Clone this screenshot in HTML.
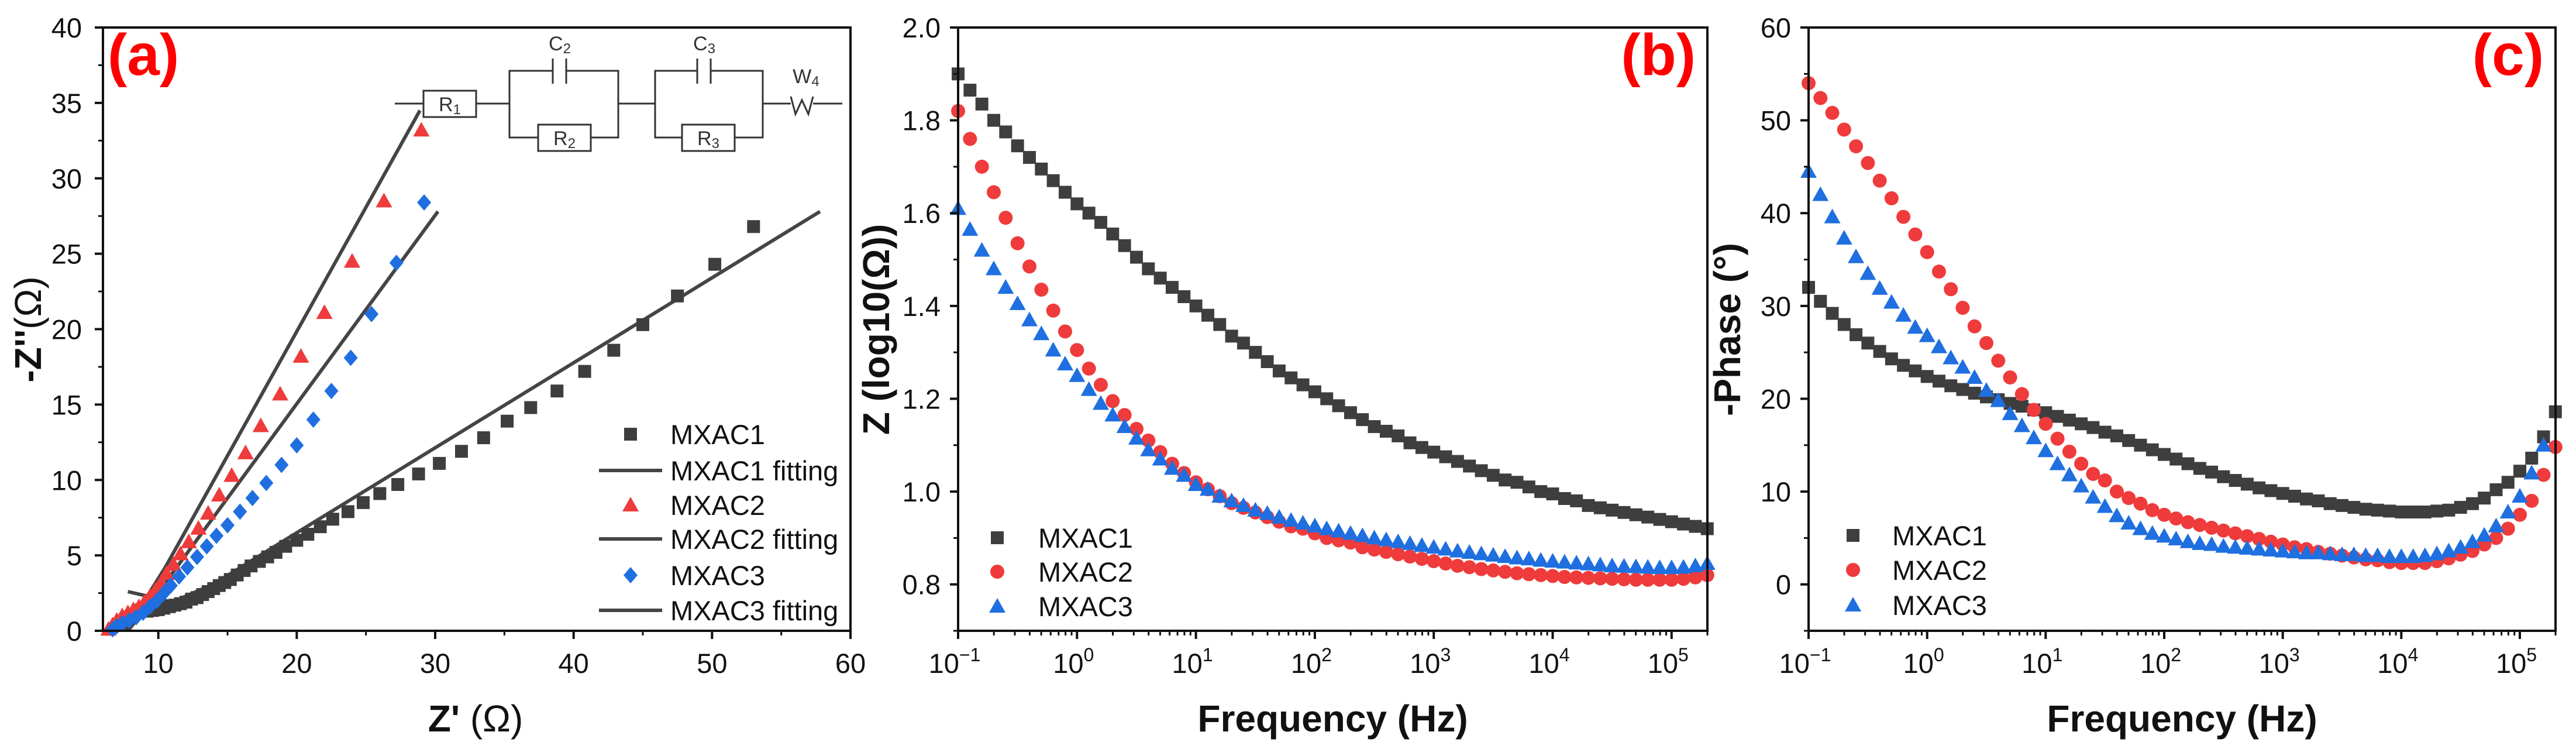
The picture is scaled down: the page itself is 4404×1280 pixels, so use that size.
<!DOCTYPE html>
<html><head><meta charset="utf-8"><style>
html,body{margin:0;padding:0;background:#fff;}
svg{display:block;font-family:"Liberation Sans",sans-serif;}
</style></head><body>
<svg id="fig" width="4404" height="1280" viewBox="0 0 4404 1280" xmlns="http://www.w3.org/2000/svg"></svg>
<script>
// ---------- Data ----------
const nyqX1=[53,50.2,47.5,45,42.9,40.8,38.8,36.9,35.2,33.5,31.9,30.3,28.8,27.3,26,24.8,23.7,22.6,21.7,20.8,20,19.2,18.5,17.9,17.3,16.7,16.2,15.7,15.2,14.8,14.4,14,13.6,13.2,12.8,12.4,12,11.6,11.2,10.8,10.4,10,9.6,9.2,8.8];
const nyqY1=[26.8,24.3,22.2,20.3,18.6,17.2,15.9,14.8,13.9,12.8,11.9,11.1,10.4,9.7,9.1,8.5,7.9,7.4,6.9,6.4,6,5.6,5.2,4.9,4.6,4.3,4,3.7,3.4,3.2,3,2.8,2.6,2.4,2.2,2.1,1.9,1.8,1.7,1.6,1.5,1.4,1.35,1.3,1.4];
const nyqX2=[29,26.3,24,22,20.3,18.8,17.4,16.3,15.3,14.4,13.6,12.9,12.2,11.6,11.1,10.6,10.2,9.8,9.4,9,8.6,8.2,7.8,7.4,7,6.7,6.4];
const nyqY2=[33.2,28.5,24.5,21.1,18.2,15.7,13.6,11.8,10.3,9,7.8,6.8,5.9,5.1,4.4,3.8,3.2,2.7,2.3,1.9,1.6,1.4,1.2,1,0.7,0.4,0.1];
const nyqX3=[29.2,27.2,25.4,23.9,22.5,21.2,20,18.9,17.8,16.8,15.9,15,14.2,13.5,12.8,12.1,11.5,10.9,10.4,9.9,9.4,8.9,8.4,7.9,7.4,7,6.7];
const nyqY3=[28.4,24.4,21,18.1,15.9,14,12.3,11,9.8,8.8,7.9,7,6.3,5.6,4.9,4.2,3.6,3,2.5,2,1.6,1.2,0.9,0.7,0.5,0.3,0.1];
const fitX1=[7.8,9.2,11,14,20,57.8];
const fitY1=[2.6,2.3,1.9,3.1,6.5,27.8];
const fitX2=[7.6,9,10.5,28.9];
const fitY2=[0,2.0,4.2,34.5];
const fitX3=[7.8,9.2,10.6,30.2];
const fitY3=[0,1.6,3.3,27.8];
const aXTicks=[10,20,30,40,50,60];
const aYTicks=[0,5,10,15,20,25,30,35,40];
const logF=[-1,-0.9,-0.8,-0.7,-0.6,-0.5,-0.4,-0.3,-0.2,-0.1,0,0.1,0.2,0.3,0.4,0.5,0.6,0.7,0.8,0.9,1,1.1,1.2,1.3,1.4,1.5,1.6,1.7,1.8,1.9,2,2.1,2.2,2.3,2.4,2.5,2.6,2.7,2.8,2.9,3,3.1,3.2,3.3,3.4,3.5,3.6,3.7,3.8,3.9,4,4.1,4.2,4.3,4.4,4.5,4.6,4.7,4.8,4.9,5,5.1,5.2,5.3];
const zMag1=[1.9,1.865,1.835,1.8,1.775,1.745,1.72,1.695,1.67,1.645,1.62,1.6,1.58,1.555,1.53,1.505,1.48,1.46,1.44,1.42,1.4,1.38,1.36,1.335,1.32,1.3,1.28,1.26,1.245,1.23,1.215,1.2,1.185,1.17,1.155,1.14,1.13,1.12,1.105,1.095,1.085,1.075,1.065,1.055,1.045,1.035,1.025,1.02,1.01,1,0.995,0.985,0.98,0.97,0.965,0.96,0.955,0.95,0.945,0.94,0.935,0.93,0.925,0.92];
const zMag2=[1.82,1.76,1.7,1.645,1.59,1.535,1.485,1.435,1.39,1.345,1.305,1.265,1.23,1.195,1.165,1.135,1.11,1.085,1.06,1.04,1.02,1.005,0.99,0.975,0.965,0.955,0.945,0.935,0.925,0.92,0.91,0.9,0.895,0.89,0.88,0.875,0.87,0.865,0.86,0.855,0.85,0.845,0.84,0.837,0.833,0.83,0.827,0.824,0.822,0.82,0.818,0.816,0.815,0.814,0.813,0.812,0.811,0.81,0.81,0.81,0.81,0.812,0.815,0.82];
const zMag3=[1.61,1.565,1.52,1.48,1.44,1.405,1.37,1.34,1.305,1.275,1.25,1.22,1.19,1.165,1.14,1.115,1.09,1.07,1.05,1.035,1.015,1.005,0.99,0.98,0.97,0.96,0.953,0.945,0.938,0.932,0.926,0.92,0.915,0.91,0.905,0.9,0.896,0.892,0.888,0.884,0.88,0.876,0.872,0.869,0.866,0.863,0.86,0.857,0.855,0.852,0.85,0.848,0.846,0.844,0.842,0.84,0.839,0.838,0.837,0.836,0.836,0.837,0.84,0.845];
const phase1=[32,30.5,29.2,28,26.9,26,25.1,24.3,23.6,23,22.4,21.9,21.4,21,20.6,20.2,19.9,19.5,19.2,18.8,18.5,18.1,17.7,17.3,16.9,16.4,16,15.5,15,14.5,14,13.5,13,12.5,12.1,11.6,11.2,10.8,10.4,10.1,9.8,9.5,9.2,9,8.7,8.5,8.3,8.1,8,7.9,7.8,7.8,7.8,7.9,8,8.3,8.7,9.3,10.2,11,12.2,13.6,15.9,18.6];
const phase2=[54,52.4,50.8,49,47.2,45.4,43.5,41.6,39.6,37.7,35.8,33.7,31.8,29.8,27.8,26,24.1,22.3,20.5,18.8,17.3,15.7,14.3,13,11.9,11.2,10,9.3,8.7,8,7.5,7.1,6.7,6.4,6.1,5.8,5.5,5.2,4.9,4.6,4.3,4,3.8,3.5,3.3,3.1,2.9,2.7,2.6,2.4,2.3,2.3,2.3,2.5,2.8,3.2,3.6,4.3,5,6,7.5,9,11.8,14.8];
const phase3=[44.5,42,39.6,37.3,35.3,33.5,31.9,30.4,29,27.7,26.8,25.6,24.4,23.4,22.3,20.9,19.8,18.4,17.1,15.8,14.4,13,11.8,10.6,9.4,8.4,7.4,6.6,6,5.5,5.2,4.9,4.6,4.4,4.3,4.1,4,3.9,3.8,3.7,3.6,3.5,3.4,3.4,3.3,3.2,3.2,3.1,3.1,3,3,3,3.1,3.3,3.6,4,4.6,5.3,6.3,7.8,9.5,12,15];
const bYTicks=[0.8,1.0,1.2,1.4,1.6,1.8,2.0];
const cYTicks=[0,10,20,30,40,50,60];
const decades=[-1,0,1,2,3,4,5];
const seriesNames=["MXAC1","MXAC2","MXAC3"];

// ---------- Helpers ----------
const NS="http://www.w3.org/2000/svg";
const svg=document.getElementById('fig');
function mk(tag,attrs,parent){const e=document.createElementNS(NS,tag);for(const k in attrs)e.setAttribute(k,attrs[k]);(parent||svg).appendChild(e);return e;}
const GRAY="#3e3e3e",RED="#ef3b3b",BLUE="#1f6fe0";
const TF=47, TT=64, TOP=47, BOT=1078, LBL_Y=1150, TITLE_Y=1250, YT_C=563;

function marker(type,cx,cy,color,parent){
  let e;
  if(type==='sq') e=mk('rect',{x:cx-11,y:cy-11,width:22,height:22,fill:color},parent);
  else if(type==='ci') e=mk('circle',{cx:cx,cy:cy,r:12,fill:color},parent);
  else if(type==='tr') e=mk('polygon',{points:`${cx},${cy-14} ${cx+14},${cy+11} ${cx-14},${cy+11}`,fill:color},parent);
  else e=mk('polygon',{points:`${cx},${cy-14} ${cx+12},${cy} ${cx},${cy+14} ${cx-12},${cy}`,fill:color},parent);
  return e;
}

// ---------- Panel (a) ----------
const A={l:176,r:1454,t:TOP,b:BOT,x0:6,x1:60,y0:0,y1:40};
const ax=v=>A.l+(v-A.x0)/(A.x1-A.x0)*(A.r-A.l);
const ay=v=>A.b-(v-A.y0)/(A.y1-A.y0)*(A.b-A.t);
const gA=mk('g',{});



const gC=mk('g',{stroke:"#333","stroke-width":3,fill:"none"},gA);


mk('line',{x1:675,y1:177,x2:724,y2:177},gC);
mk('rect',{x:724,y:155,width:90,height:45},gC);
mk('line',{x1:814,y1:177,x2:871,y2:177},gC);
mk('polyline',{points:"871,177 871,121 945,121"},gC);
mk('polyline',{points:"968,121 1057,121 1057,177"},gC);
mk('line',{x1:945,y1:100,x2:945,y2:143},gC);
mk('line',{x1:968,y1:100,x2:968,y2:143},gC);
mk('polyline',{points:"871,177 871,235 920,235"},gC);
mk('rect',{x:920,y:213,width:90,height:45},gC);
mk('polyline',{points:"1010,235 1057,235 1057,177"},gC);
mk('line',{x1:1057,y1:177,x2:1120,y2:177},gC);
mk('polyline',{points:"1120,177 1120,121 1192,121"},gC);
mk('polyline',{points:"1215,121 1304,121 1304,177"},gC);
mk('line',{x1:1192,y1:100,x2:1192,y2:143},gC);
mk('line',{x1:1215,y1:100,x2:1215,y2:143},gC);
mk('polyline',{points:"1120,177 1120,235 1166,235"},gC);
mk('rect',{x:1166,y:213,width:90,height:45},gC);
mk('polyline',{points:"1256,235 1304,235 1304,177"},gC);
mk('line',{x1:1304,y1:177,x2:1352,y2:177},gC);
mk('polyline',{points:"1352,165 1360,195 1371,171 1382,195 1390,165"},gC);
mk('line',{x1:1390,y1:177,x2:1440,y2:177},gC);
const circLabels=[["R","1","769","190"],["R","2","965","248"],["R","3","1211","248"],["C","2","957","86"],["C","3","1204","86"],["W","4","1378","142"]];
circLabels.forEach(c=>{const t=mk('text',{x:c[2],y:c[3],"font-size":34,fill:"#333","text-anchor":"middle"},gA);
  t.appendChild(document.createTextNode(c[0]));
  const s=mk('tspan',{"font-size":24,dy:5},t);s.textContent=c[1];
  
  });

[[fitX1,fitY1],[fitX2,fitY2],[fitX3,fitY3]].forEach((f,i)=>{
  const p=mk('polyline',{points:f[0].map((x,j)=>ax(x)+','+ay(f[1][j])).join(' '),fill:'none',stroke:'#454545','stroke-width':6},gA);
  
  
});
[[nyqX1,nyqY1,'sq',GRAY],[nyqX2,nyqY2,'tr',RED],[nyqX3,nyqY3,'di',BLUE]].forEach((s,i)=>{
  s[0].forEach((x,j)=>{const m=marker(s[2],ax(x),ay(s[1][j]),s[3],gA);
  
  });
});

function frame(P,g){
  const r=mk('rect',{x:P.l,y:P.t,width:P.r-P.l,height:P.b-P.t,fill:'none',stroke:'#111','stroke-width':4},g);
  
  
}
frame(A,gA);
aXTicks.forEach(v=>{const x=ax(v);mk('line',{x1:x,y1:A.b,x2:x,y2:A.b+14,stroke:'#111','stroke-width':4},gA);
  const t=mk('text',{x:x,y:LBL_Y,"font-size":TF,"text-anchor":"middle",fill:'#111'},gA);t.textContent=v;
  
  
  if(v<60){mk('line',{x1:ax(v+5),y1:A.b,x2:ax(v+5),y2:A.b+8,stroke:'#111','stroke-width':3},gA);}
});
aYTicks.forEach(v=>{const y=ay(v);mk('line',{x1:A.l-14,y1:y,x2:A.l,y2:y,stroke:'#111','stroke-width':4},gA);
  if(v<40)mk('line',{x1:A.l-8,y1:ay(v+2.5),x2:A.l,y2:ay(v+2.5),stroke:'#111','stroke-width':3},gA);
  const t=mk('text',{x:140,y:y+17,"font-size":TF,"text-anchor":"end",fill:'#111'},gA);t.textContent=v;
  
  
});
function richText(attrs,parts,parent){
  const t=mk('text',attrs,parent);
  parts.forEach(p=>{const s=mk('tspan',p[1]?{"font-weight":"bold"}:{},t);s.textContent=p[0];});
  return t;
}
let tt=richText({x:813,y:TITLE_Y,"font-size":TT,"text-anchor":"middle",fill:'#111'},[["Z'",1],[" (Ω)",0]],gA);


tt=richText({x:0,y:0,"font-size":TT,"text-anchor":"middle",fill:'#111',transform:`translate(70,${YT_C}) rotate(-90)`},[["-Z''",1],["(Ω)",0]],gA);


tt=mk('text',{x:184,y:128,"font-size":100,"font-weight":"bold",fill:'#f00'},gA);tt.textContent='(a)';


const legA=[['sq',GRAY,'MXAC1'],['line','','MXAC1 fitting'],['tr',RED,'MXAC2'],['line','','MXAC2 fitting'],['di',BLUE,'MXAC3'],['line','','MXAC3 fitting']];
const legAy=[742,804,863,921,983,1043];
legA.forEach((L,i)=>{const y=legAy[i];
  if(L[0]==='line'){mk('line',{x1:1024,y1:y,x2:1132,y2:y,stroke:'#454545','stroke-width':6},gA);}
  else marker(L[0],1078,y,L[1],gA);
  const t=mk('text',{x:1146,y:y+17,"font-size":TF,fill:'#111'},gA);t.textContent=L[2];
  
  
});

// ---------- Log panels ----------
function logPanel(P,ys,yTicks,yMinor,types,colors,ytitle,titleX,label,leg,name){
  const g=mk('g',{});
  
  
  const px=v=>P.l+(v-P.x0)/(P.x1-P.x0)*(P.r-P.l);
  const py=v=>P.b-(v-P.y0)/(P.y1-P.y0)*(P.b-P.t);
  ys.forEach((s,i)=>{s.forEach((v,j)=>{if(logF[j]>P.x1+0.02)return;const m=marker(types[i],px(logF[j]),py(v),colors[i],g);
    
    });});
  frame(P,g);
  decades.forEach(d=>{const x=px(d);mk('line',{x1:x,y1:P.b,x2:x,y2:P.b+14,stroke:'#111','stroke-width':4},g);
    for(let k=2;k<10;k++){const xm=px(d+Math.log10(k));if(xm<=P.r)mk('line',{x1:xm,y1:P.b,x2:xm,y2:P.b+8,stroke:'#111','stroke-width':3},g);}
    const t=mk('text',{x:x-6,y:LBL_Y,"font-size":TF,"text-anchor":"middle",fill:'#111'},g);
    t.appendChild(document.createTextNode('10'));
    const s=mk('tspan',{"font-size":32,dy:-20},t);s.textContent=(d<0?'−'+(-d):String(d));
    
    
  });
  yTicks.forEach(v=>{const y=py(v);mk('line',{x1:P.l-14,y1:y,x2:P.l,y2:y,stroke:'#111','stroke-width':4},g);
    const t=mk('text',{x:P.l-30,y:y+17,"font-size":TF,"text-anchor":"end",fill:'#111'},g);t.textContent=v.toFixed(P.dec);
    
    });
  yMinor.forEach(v=>{mk('line',{x1:P.l-8,y1:py(v),x2:P.l,y2:py(v),stroke:'#111','stroke-width':3},g);});
  let t=mk('text',{x:(P.l+P.r)/2,y:TITLE_Y,"font-size":TT,"font-weight":"bold","text-anchor":"middle",fill:'#111'},g);t.textContent='Frequency (Hz)';
  
  
  t=mk('text',{x:0,y:0,"font-size":TT,"font-weight":"bold","text-anchor":"middle",fill:'#111',transform:`translate(${titleX},${YT_C}) rotate(-90)`},g);t.textContent=ytitle;
  
  
  t=mk('text',{x:P.r-20,y:128,"font-size":100,"font-weight":"bold","text-anchor":"end",fill:'#f00'},g);t.textContent=label;
  
  
  seriesNames.forEach((n,i)=>{marker(types[i],leg.mx,leg.ys[i],colors[i],g);
    const e=mk('text',{x:leg.tx,y:leg.ys[i]+17,"font-size":TF,fill:'#111'},g);e.textContent=n;
    
    });
}
logPanel({l:1638,r:2919,t:TOP,b:BOT,x0:-1,x1:Math.log10(2e5),y0:0.7,y1:2.0,dec:1},
  [zMag1,zMag2,zMag3],bYTicks,[0.7,0.9,1.1,1.3,1.5,1.7,1.9],['sq','ci','tr'],[GRAY,RED,BLUE],
  'Z (log10(Ω))',1520,'(b)',{mx:1705,tx:1775,ys:[919,977,1036]},'impedance-panel');
logPanel({l:3092,r:4369,t:TOP,b:BOT,x0:-1,x1:Math.log10(2e5),y0:-5,y1:60,dec:0},
  [phase1,phase2,phase3],cYTicks,[-5,5,15,25,35,45,55],['sq','ci','tr'],[GRAY,RED,BLUE],
  '-Phase (°)',2975,'(c)',{mx:3168,tx:3235,ys:[915,974,1034]},'phase-panel');
</script>
</body></html>
